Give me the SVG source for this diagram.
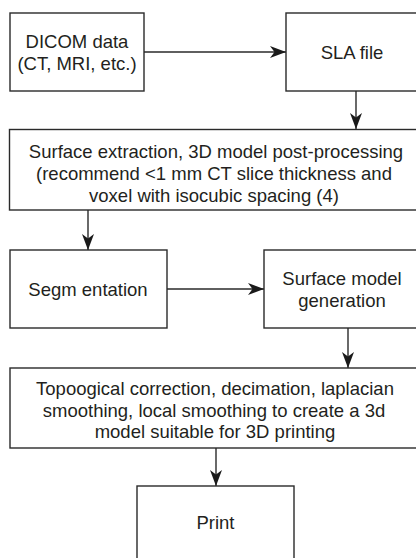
<svg xmlns="http://www.w3.org/2000/svg" width="416" height="558" viewBox="0 0 416 558">
<style>
.box{fill:#fff;stroke:#2a2a2a;stroke-width:1.4}
.t{font-family:"Liberation Sans",Arial,sans-serif;font-size:18.5px;fill:#231f20;text-anchor:middle}
.c{stroke:#2a2a2a;stroke-width:1.4;fill:none;marker-end:url(#ah)}
</style>
<defs>
<marker id="ah" markerUnits="userSpaceOnUse" markerWidth="18" markerHeight="14" viewBox="-17 -7 18 14" refX="0" refY="0" orient="auto">
<path d="M0,0 L-16,-6 L-11.5,0 L-16,6 Z" fill="#1a1a1a"/>
</marker>
</defs>
<rect width="416" height="558" fill="#fff"/>
<g id="connectors">
<line class="c" x1="144" y1="52" x2="286" y2="52"/>
<line class="c" x1="356" y1="91" x2="356" y2="129"/>
<line class="c" x1="88" y1="210" x2="88" y2="250"/>
<line class="c" x1="167" y1="289" x2="264" y2="289"/>
<line class="c" x1="348" y1="328" x2="348" y2="368"/>
<line class="c" x1="216" y1="448" x2="216" y2="486"/>
</g>
<g id="dicom">
<rect class="box" x="10" y="13" width="134" height="78"/>
<text class="t" x="77" y="48">DICOM data</text>
<text class="t" x="77" y="69.5">(CT, MRI, etc.)</text>
</g>
<g id="sla">
<rect class="box" x="286" y="13" width="140" height="78"/>
<text class="t" x="352" y="58.5">SLA file</text>
</g>
<g id="surface-extraction">
<rect class="box" x="9.5" y="129.5" width="420" height="80.5"/>
<text class="t" x="216" y="158">Surface extraction, 3D model post-processing</text>
<text class="t" x="214" y="180">(recommend &lt;1 mm CT slice thickness and</text>
<text class="t" x="214" y="202">voxel with isocubic spacing (4)</text>
</g>
<g id="segmentation">
<rect class="box" x="10" y="250" width="157" height="78"/>
<text class="t" x="88" y="296">Segm entation</text>
</g>
<g id="surface-model">
<rect class="box" x="264" y="250" width="160" height="78"/>
<text class="t" x="342" y="285">Surface model</text>
<text class="t" x="342" y="307">generation</text>
</g>
<g id="topological">
<rect class="box" x="10" y="368" width="420" height="80"/>
<text class="t" x="215" y="395">Topoogical correction, decimation, laplacian</text>
<text class="t" x="214" y="416.5">smoothing, local smoothing to create a 3d</text>
<text class="t" x="215" y="438">model suitable for 3D printing</text>
</g>
<g id="print">
<rect class="box" x="137" y="486" width="157" height="90"/>
<text class="t" x="215.5" y="529">Print</text>
</g>
</svg>
